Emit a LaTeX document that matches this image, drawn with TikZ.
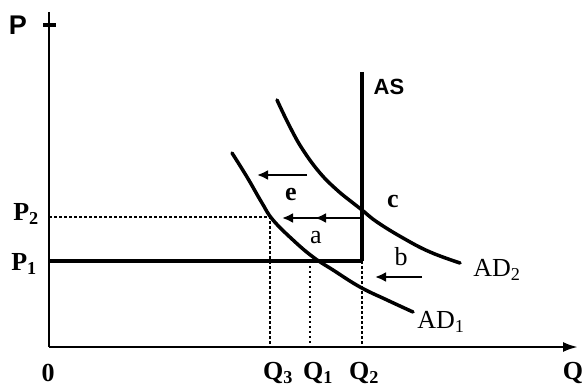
\documentclass[tikz,border=0pt]{standalone}
\usepackage{fontspec}
\setmainfont{Liberation Serif}
\newfontfamily\sansb{Liberation Sans}
\usetikzlibrary{arrows.meta}
\begin{document}
\begin{tikzpicture}[x=1pt,y=-1pt,
 lbl/.style={font=\fontsize{26}{26}\selectfont, inner sep=0pt},
 blbl/.style={font=\fontsize{26}{26}\selectfont\bfseries, inner sep=0pt},
 slbl/.style={font=\fontsize{22}{22}\selectfont\sansb\bfseries, inner sep=0pt},
 axis/.style={line width=2.5pt},
 thick line/.style={line width=4.5pt},
 curve/.style={line width=3.5pt, line cap=round},
 dsh/.style={line width=1.3pt, dash pattern=on 3pt off 2pt},
 dotl/.style={line width=2pt, dash pattern=on 2pt off 3pt},
 shiftarrow/.style={line width=2.5pt, -{Latex[length=11pt,width=10pt]}},
]
\useasboundingbox (0,0) rectangle (586,387);
% coordinates
\coordinate (O) at (49,347);
\coordinate (Ptop) at (49,12);
\coordinate (Qend) at (578,347);
\coordinate (P1L) at (49,261);
\coordinate (P2L) at (49,217);
\coordinate (AStop) at (362,72);
\coordinate (ASbot) at (362,261);
\coordinate (Q2b) at (362,347);
\coordinate (E) at (270,217);
\coordinate (Q3b) at (270,347);
\coordinate (A) at (310,261);
\coordinate (Q1b) at (310,347);
\coordinate (C) at (360,218);
\coordinate (Cmid) at (315,218);
\coordinate (Cend) at (282,218);
\coordinate (Es) at (307,175);
\coordinate (Ee) at (257,175);
\coordinate (Bs) at (422,277);
\coordinate (Be) at (375,277);
\coordinate (Tl) at (43,25);
\coordinate (Tr) at (56,25);
% axes
\draw[axis] (Ptop) -- (O);
\draw[axis, -{Latex[length=15pt,width=10pt]}] (O) -- (Qend);
\draw[line width=4pt] (Tl) -- (Tr);
% dashed guides
\draw[dsh] (P2L) -- (E) -- (Q3b);
\draw[dotl] (A) -- (Q1b);
\draw[dsh] (ASbot) -- (Q2b);
% price line and AS
\draw[thick line] (P1L) -- (ASbot);
\draw[thick line] (AStop) -- (ASbot);
% demand curves
\draw[curve] plot[smooth, tension=0.7] coordinates {(277,100) (290,127) (303,150) (320,173) (337,190) (353,203) (362,210) (377,222) (403,238) (430,252) (460,263)};
\draw[curve] plot[smooth, tension=0.7] coordinates {(232,153) (247,177) (262,203) (273,220) (293,240) (313,257) (333,270) (360,287) (387,300) (413,312)};
% shift arrows
\draw[shiftarrow] (C) -- (Cend);
\draw[shiftarrow] (C) -- (Cmid);
\draw[shiftarrow] (Es) -- (Ee);
\draw[shiftarrow] (Bs) -- (Be);
% labels
\node[slbl, font=\fontsize{27}{27}\selectfont\sansb\bfseries] (lP) at (18,25) {P};
\node[slbl] (lAS) at (389,87) {AS};
\node[blbl] (lP2) at (26,214) {P\textsubscript{2}};
\node[blbl] (lP1) at (24,264) {P\textsubscript{1}};
\node[blbl] (l0) at (48,373) {0};
\node[blbl] (lQ3) at (278,373) {Q\textsubscript{3}};
\node[blbl] (lQ1) at (318,373) {Q\textsubscript{1}};
\node[blbl] (lQ2) at (364,373) {Q\textsubscript{2}};
\node[blbl] (lQ) at (573,373) {Q};
\node[lbl] (la) at (316,238) {a};
\node[blbl] (le) at (291,195) {e};
\node[blbl] (lc) at (393,201) {c};
\node[lbl] (lb) at (401,257) {b};
\node[lbl] (lAD2) at (497,270) {AD\textsubscript{2}};
\node[lbl] (lAD1) at (441,322) {AD\textsubscript{1}};
\end{tikzpicture}
\end{document}
